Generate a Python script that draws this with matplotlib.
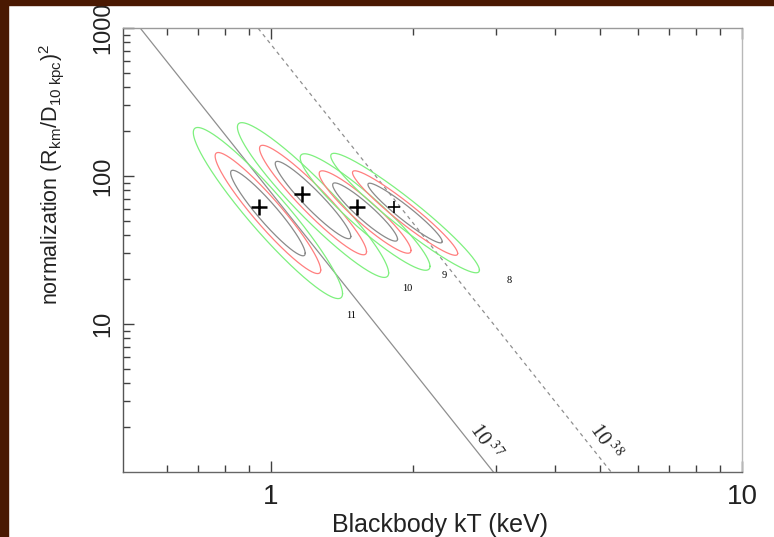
## Blackbody fits: normalization vs kT with confidence contours
import numpy as np
import matplotlib.pyplot as plt
from matplotlib.patches import Rectangle
from matplotlib.ticker import FixedLocator, NullFormatter

## DATA
# best fit values (crosses)
fit_kT = [0.943, 1.164, 1.522, 1.824]
fit_norm = [61.8, 75.6, 61.8, 61.8]
cross_size = [11, 11, 11, 9]

# contour centres and 1-sigma widths in log10 space
cen_kT = [0.985, 1.228, 1.584, 1.926]
cen_norm = [56.2, 68.8, 57.1, 56.2]
sig_logkT = [0.0522, 0.0529, 0.0454, 0.052]
sig_lognorm = [0.1905, 0.1723, 0.1297, 0.133]
rho = [-0.941, -0.942, -0.932, -0.955]

obs_labels = ['11', '10', '9', '8']
label_kT = [1.479, 1.944, 2.330, 3.20]
label_norm = [11.5, 17.5, 21.4, 19.8]

dchi2 = [9.21, 4.61, 2.30]                  # 99%, 90%, 68%
contour_colors = ['#7ef07e', '#ff7f7f', '#8a8a8a']

lum = [1e37, 1e38]                          # erg/s at 10 kpc
lum_exp = ['37', '38']
lum_styles = ['-', '--']

x_ticks = [1, 10]
y_ticks = [10, 100, 1000]

## FUNCTIONS
def bb_norm(L, kT):
    '''normalization (R_km/D_10kpc)^2 for luminosity L at 10 kpc'''
    return L / (1.2924e35 * kT ** 4)

def contour(i, c, n=400):
    '''ellipse of delta chi^2 = c for observation i, back in linear units'''
    sx, sy, r = sig_logkT[i], sig_lognorm[i], rho[i]
    cov = np.array([[sx * sx, r * sx * sy], [r * sx * sy, sy * sy]])
    L = np.linalg.cholesky(cov)
    t = np.linspace(0, 2 * np.pi, n)
    pts = np.sqrt(c) * L @ np.vstack([np.cos(t), np.sin(t)])
    return 10 ** (np.log10(cen_kT[i]) + pts[0]), 10 ** (np.log10(cen_norm[i]) + pts[1])

## PLOT
W, H = 774, 537
plt.rcParams['mathtext.fontset'] = 'custom'
plt.rcParams['mathtext.rm'] = 'Liberation Sans'
plt.rcParams['mathtext.it'] = 'Liberation Sans'

fig = plt.figure(figsize=(W / 100, H / 100), dpi=100)
fig.patch.set_facecolor('white')
# dark frame at top and left of the slide
fig.patches.append(Rectangle((0, 1 - 5 / H), 1, 5 / H, transform=fig.transFigure,
                             color='#4a1902', zorder=0))
fig.patches.append(Rectangle((0, 0), 8 / W, 1, transform=fig.transFigure,
                             color='#4a1902', zorder=0))

ax = fig.add_axes([123 / W, 1 - 472 / H, (742 - 123) / W, (472 - 28) / H])
ax.set_xscale('log')
ax.set_yscale('log')
ax.set_xlim(0.485, 10)
ax.set_ylim(1, 1000)

# constant luminosity lines
kT = np.logspace(np.log10(0.3), np.log10(12), 200)
for L, ls in zip(lum, lum_styles):
    ax.plot(kT, bb_norm(L, kT), ls=ls, color='#8f8f8f', lw=0.9,
            dashes=(3, 3) if ls == '--' else (None, None))

# 10^37 / 10^38 labels along the lines
for L, e in zip(lum, lum_exp):
    yl = 1.6
    xl = (L / (1.2924e35 * yl)) ** 0.25 * (1.08 if e == '37' else 1.09)
    ax.text(xl, yl, r'10$\,^{' + e + '}$', rotation=-55, rotation_mode='anchor',
            ha='center', va='center', fontsize=15, family='Liberation Serif',
            color='#222222', math_fontfamily='stix')

# confidence contours
for i in range(len(fit_kT)):
    for c, col in zip(dchi2, contour_colors):
        xs, ys = contour(i, c)
        ax.plot(xs, ys, color=col, lw=0.9)
    ax.text(label_kT[i], label_norm[i], obs_labels[i], fontsize=7.5,
            family='Liberation Serif', ha='center', va='center')

for i in range(len(fit_kT)):
    ax.plot(fit_kT[i], fit_norm[i], '+', color='black', ms=cross_size[i],
            mew=1.8 if cross_size[i] > 10 else 1.2)

# axes styling
spine_colors = {'left': '#555555', 'bottom': '#666666', 'top': '#9a9a9a', 'right': '#b8b8b8'}
for s, col in spine_colors.items():
    ax.spines[s].set_color(col)
    ax.spines[s].set_linewidth(1.0)

ax.xaxis.set_major_locator(FixedLocator(x_ticks))
ax.xaxis.set_minor_locator(FixedLocator([0.6, 0.7, 0.8, 0.9] + list(range(2, 10))))
ax.yaxis.set_major_locator(FixedLocator(y_ticks))
ax.yaxis.set_minor_locator(FixedLocator([m * d for d in (1, 10, 100) for m in range(2, 10)]))
ax.xaxis.set_minor_formatter(NullFormatter())
ax.yaxis.set_minor_formatter(NullFormatter())
ax.set_xticklabels([str(v) for v in x_ticks])
ax.set_yticklabels([str(v) for v in y_ticks])

ax.tick_params(axis='both', which='both', direction='in', color='#404040',
               top=True, right=False)
ax.tick_params(axis='both', which='major', length=8, width=1)
ax.tick_params(axis='both', which='minor', length=5, width=1)
ax.tick_params(axis='x', pad=9, labelsize=20)
ax.tick_params(axis='y', pad=6, labelsize=17)
for lbl in ax.get_xticklabels() + ax.get_yticklabels():
    lbl.set_family('Liberation Sans')
    lbl.set_color('#222222')
for lbl in ax.get_yticklabels():
    lbl.set_rotation(90)
    lbl.set_va('center')

fig.text(440 / W, 1 - 525 / H, 'Blackbody kT (keV)', fontsize=18,
         family='Liberation Sans', ha='center', va='center', color='#222222')
fig.text(52 / W, 1 - 174 / H,
         r'normalization (R$_{\rm km}$/D$_{\rm 10\ kpc}$)$^{\rm 2}$',
         fontsize=15.5, family='Liberation Sans', rotation=90,
         ha='center', va='center', color='#222222')

fig.savefig('out.png', dpi=100)
